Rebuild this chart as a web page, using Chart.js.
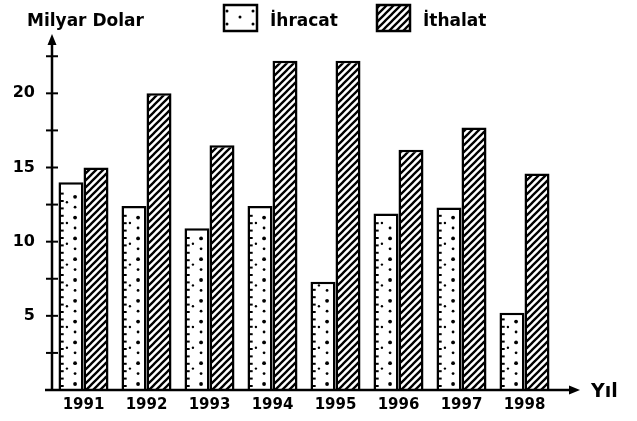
<!DOCTYPE html>
<html>
<head>
<meta charset="utf-8">
<script src="https://cdn.jsdelivr.net/npm/chart.js@4.4.1/dist/chart.umd.min.js"></script>
<style>
  html, body { margin: 0; padding: 0; background: #fff; }
  #wrap { width: 637px; height: 421px; position: relative; }
</style>
</head>
<body>
<div id="wrap"><canvas id="trade-chart"></canvas></div>
<script>
const years = ['1991', '1992', '1993', '1994', '1995', '1996', '1997', '1998'];
const ihracat = [14.0, 12.4, 10.9, 12.4, 7.3, 11.9, 12.3, 5.2];
const ithalat = [15.0, 20.0, 16.5, 22.2, 22.2, 16.2, 17.7, 14.6];
const yLabels = [5, 10, 15, 20];
const seriesNames = ['İhracat', 'İthalat'];
const yTitle = 'Milyar Dolar';
const xTitle = 'Yıl';

const FONT = "'DejaVu Sans', sans-serif";

function makeHatch() {
  const c = document.createElement('canvas');
  c.width = 7;
  c.height = 7;
  const g = c.getContext('2d');
  g.fillStyle = '#fff';
  g.fillRect(0, 0, 7, 7);
  g.strokeStyle = '#000';
  g.lineWidth = 2.3;
  g.beginPath();
  g.moveTo(-1, 8); g.lineTo(8, -1);
  g.moveTo(-1, 1); g.lineTo(1, -1);
  g.moveTo(6, 8); g.lineTo(8, 6);
  g.stroke();
  return g.createPattern(c, 'repeat');
}

const hatch = makeHatch();

// dots + little dashes on the left edge, like the printed texture
function dotFill(ctx, left, top, width, bottom) {
  ctx.save();
  ctx.beginPath();
  ctx.rect(left, top, width, bottom - top);
  ctx.clip();
  ctx.fillStyle = '#000';
  for (let yy = bottom - 4; yy > top + 3; yy -= 7.4) {
    ctx.fillRect(left, yy - 1, 4, 2);
  }
  let n = 0;
  for (let yy = bottom - 6; yy > top + 4; yy -= 10.4) {
    ctx.beginPath();
    ctx.arc(left + width * 0.68, yy, n % 2 ? 1.4 : 1.9, 0, Math.PI * 2);
    ctx.fill();
    if (n % 2) {
      ctx.beginPath();
      ctx.arc(left + width * 0.32, yy - 5, 1.2, 0, Math.PI * 2);
      ctx.fill();
    }
    n++;
  }
  ctx.restore();
}

const dotsPlugin = {
  id: 'dots',
  afterDatasetsDraw(chart) {
    const ctx = chart.ctx;
    const meta = chart.getDatasetMeta(0);
    meta.data.forEach((bar) => {
      const left = bar.x - bar.width / 2;
      dotFill(ctx, left + 1.2, bar.y + 1.2, bar.width - 2.4, bar.base);
    });
  },
};

const axesPlugin = {
  id: 'axes',
  afterDraw(chart) {
    const ctx = chart.ctx;
    const yScale = chart.scales.y;
    const area = chart.chartArea;
    const x0 = area.left;
    const y0 = yScale.getPixelForValue(0);
    const yTop = yScale.getPixelForValue(yScale.max);

    ctx.save();
    ctx.strokeStyle = '#000';
    ctx.fillStyle = '#000';
    ctx.lineWidth = 2.5;

    // y axis
    ctx.beginPath();
    ctx.moveTo(x0, y0 + 1);
    ctx.lineTo(x0, yTop + 6);
    ctx.stroke();
    ctx.beginPath();
    ctx.moveTo(x0, yTop);
    ctx.lineTo(x0 - 4.5, yTop + 11);
    ctx.lineTo(x0 + 4.5, yTop + 11);
    ctx.closePath();
    ctx.fill();

    // cross ticks every 2.5
    ctx.lineWidth = 2;
    yScale.ticks.forEach((t) => {
      if (t.value <= 0 || (t.value * 2) % 5 !== 0) return;
      const py = yScale.getPixelForValue(t.value);
      ctx.beginPath();
      ctx.moveTo(x0 - 6, py);
      ctx.lineTo(x0 + 6, py);
      ctx.stroke();
    });

    // x axis
    const xEnd = area.right + 24;
    ctx.lineWidth = 2.5;
    ctx.beginPath();
    ctx.moveTo(x0 - 7, y0);
    ctx.lineTo(xEnd - 6, y0);
    ctx.stroke();
    ctx.beginPath();
    ctx.moveTo(xEnd, y0);
    ctx.lineTo(xEnd - 11, y0 - 4.5);
    ctx.lineTo(xEnd - 11, y0 + 4.5);
    ctx.closePath();
    ctx.fill();

    // titles
    ctx.textBaseline = 'alphabetic';
    ctx.textAlign = 'left';
    ctx.font = 'bold 19px ' + FONT;
    ctx.fillText(xTitle, xEnd + 11, y0 + 7);
    ctx.font = 'bold 17px ' + FONT;
    ctx.fillText(yTitle, 27, 26);

    // legend
    ctx.lineWidth = 2.5;
    const boxes = [
      { x: 224, w: 33, fill: null },
      { x: 377, w: 33, fill: hatch },
    ];
    boxes.forEach((b, i) => {
      ctx.fillStyle = b.fill || '#fff';
      ctx.fillRect(b.x, 5, b.w, 26);
      if (!b.fill) {
        ctx.fillStyle = '#000';
        [[b.x + 3, 11], [b.x + 3, 24], [b.x + b.w - 4, 11], [b.x + b.w - 4, 24], [b.x + 16, 17]].forEach(([px, py]) => {
          ctx.beginPath();
          ctx.arc(px, py, 1.5, 0, Math.PI * 2);
          ctx.fill();
        });
      }
      ctx.strokeRect(b.x, 5, b.w, 26);
      ctx.fillStyle = '#000';
      ctx.font = 'bold 17px ' + FONT;
      ctx.fillText(chart.data.datasets[i].label, b.x + b.w + 13, 26);
    });
    ctx.restore();
  },
};

const ctx = document.getElementById('trade-chart').getContext('2d');

new Chart(ctx, {
  type: 'bar',
  data: {
    labels: years,
    datasets: [
      { label: seriesNames[0], data: ihracat, backgroundColor: '#fff', borderColor: '#000', borderWidth: 2.5 },
      { label: seriesNames[1], data: ithalat, backgroundColor: hatch, borderColor: '#000', borderWidth: 2.5 },
    ],
  },
  options: {
    responsive: true,
    maintainAspectRatio: false,
    animation: false,
    layout: { padding: { top: 34, right: 81, left: 0, bottom: 0 } },
    datasets: { bar: { categoryPercentage: 0.794, barPercentage: 1.0 } },
    plugins: {
      legend: { display: false },
      tooltip: { enabled: false },
    },
    scales: {
      x: {
        grid: { display: false, drawTicks: false },
        border: { display: false },
        ticks: { color: '#000', font: { family: FONT, size: 15, weight: 'bold' }, padding: 6, maxRotation: 0 },
        afterFit: (scale) => { scale.height = 31; },
      },
      y: {
        min: 0,
        max: 24,
        grid: { display: false, drawTicks: false },
        border: { display: false },
        ticks: {
          stepSize: 2.5,
          autoSkip: false,
          color: '#000',
          font: { family: FONT, size: 16, weight: 'bold' },
          padding: 17,
          callback: (v) => (yLabels.includes(v) ? String(v) : ''),
        },
        afterFit: (scale) => { scale.width = 52; },
      },
    },
  },
  plugins: [dotsPlugin, axesPlugin],
});
</script>
</body>
</html>
